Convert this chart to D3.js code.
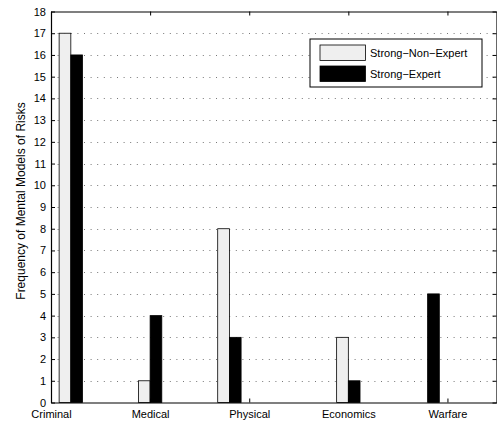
<!DOCTYPE html>
<html>
<head>
<meta charset="utf-8">
<script src="https://cdn.jsdelivr.net/npm/d3@7"></script>
<style>
body { margin: 0; background: #fff; }
text { font-family: "Liberation Sans", Arial, sans-serif; }
</style>
</head>
<body>
<svg id="chart" width="497" height="425"></svg>
<script>
// data
var categories = ["Criminal", "Medical", "Physical", "Economics", "Warfare"];
var tickPos = [1, 2, 3, 4, 5];
var barX = [1.2, 2, 2.8, 4, 4.8];
var nonExpert = [17, 1, 8, 3, 0];
var expert = [16, 4, 3, 1, 5];
var yTicks = d3.range(0, 19);
var seriesNames = ["Strong\u2212Non\u2212Expert", "Strong\u2212Expert"];
var seriesColors = ["#efefef", "#000000"];

var svg = d3.select("#chart");
var pLeft = 51, pRight = 497, pTop = 11.5, pBottom = 402.5;

var xScale = d3.scaleLinear().domain([1, 5.5]).range([pLeft, pRight]);
var yScale = d3.scaleLinear().domain([0, 18]).range([pBottom, pTop]);
var bw = xScale(1.118) - xScale(1);

// grid
svg.append("g").selectAll("line")
    .data(yTicks.slice(1, -1))
    .enter().append("line")
    .attr("x1", pLeft).attr("x2", pRight)
    .attr("y1", function(d) { return Math.round(yScale(d)) + 0.5; })
    .attr("y2", function(d) { return Math.round(yScale(d)) + 0.5; })
    .attr("stroke", "#777")
    .attr("stroke-width", 1)
    .attr("stroke-dasharray", "1,5.6");

// bars
var series = [nonExpert, expert];
series.forEach(function(vals, s) {
    svg.append("g").selectAll("rect")
        .data(vals)
        .enter().append("rect")
        .attr("x", function(d, i) { return xScale(barX[i]) - bw + s * bw; })
        .attr("y", function(d) { return yScale(d); })
        .attr("width", bw)
        .attr("height", function(d) { return pBottom - yScale(d); })
        .attr("fill", seriesColors[s])
        .attr("stroke", "#000")
        .attr("stroke-width", 0.8);
});

// axes
var axL = svg.append("g").attr("transform", "translate(" + pLeft + ",0)")
    .call(d3.axisLeft(yScale).tickValues(yTicks).tickSizeInner(-4).tickSizeOuter(0).tickPadding(8));
svg.append("g").attr("transform", "translate(" + (pRight - 0.5) + ",0)")
    .call(d3.axisRight(yScale).tickValues(yTicks).tickSizeInner(-4).tickSizeOuter(0).tickFormat(""));
svg.append("g").attr("transform", "translate(0," + pBottom + ")")
    .call(d3.axisBottom(xScale).tickValues(tickPos).tickSizeInner(-4).tickSizeOuter(0).tickPadding(8)
        .tickFormat(function(d, i) { return categories[i]; }));
svg.append("g").attr("transform", "translate(0," + pTop + ")")
    .call(d3.axisTop(xScale).tickValues(tickPos).tickSizeInner(-4).tickSizeOuter(0).tickFormat(""));

svg.selectAll(".domain").attr("stroke", "#000").attr("stroke-width", 1.2);
svg.selectAll(".tick line").attr("stroke", "#000");
svg.selectAll(".tick text").attr("font-size", 11).attr("fill", "#000")
    .style("font-family", "Liberation Sans, Arial, sans-serif");
axL.selectAll(".tick text").attr("dx", 3);

// y label
svg.append("text")
    .attr("transform", "translate(25,201) rotate(-90)")
    .attr("text-anchor", "middle")
    .attr("font-size", 12)
    .text("Frequency of Mental Models of Risks");

// legend
var lg = svg.append("g").attr("transform", "translate(310,39)");
lg.append("rect").attr("width", 172).attr("height", 48)
    .attr("fill", "#fff").attr("stroke", "#000").attr("stroke-width", 1);
seriesNames.forEach(function(name, i) {
    lg.append("rect")
        .attr("x", 10).attr("y", 6 + i * 21)
        .attr("width", 45.5).attr("height", 15.5)
        .attr("fill", seriesColors[i]).attr("stroke", "#000").attr("stroke-width", 0.8);
    lg.append("text")
        .attr("x", 60).attr("y", 18 + i * 21)
        .attr("font-size", 11)
        .text(name);
});
</script>
</body>
</html>
